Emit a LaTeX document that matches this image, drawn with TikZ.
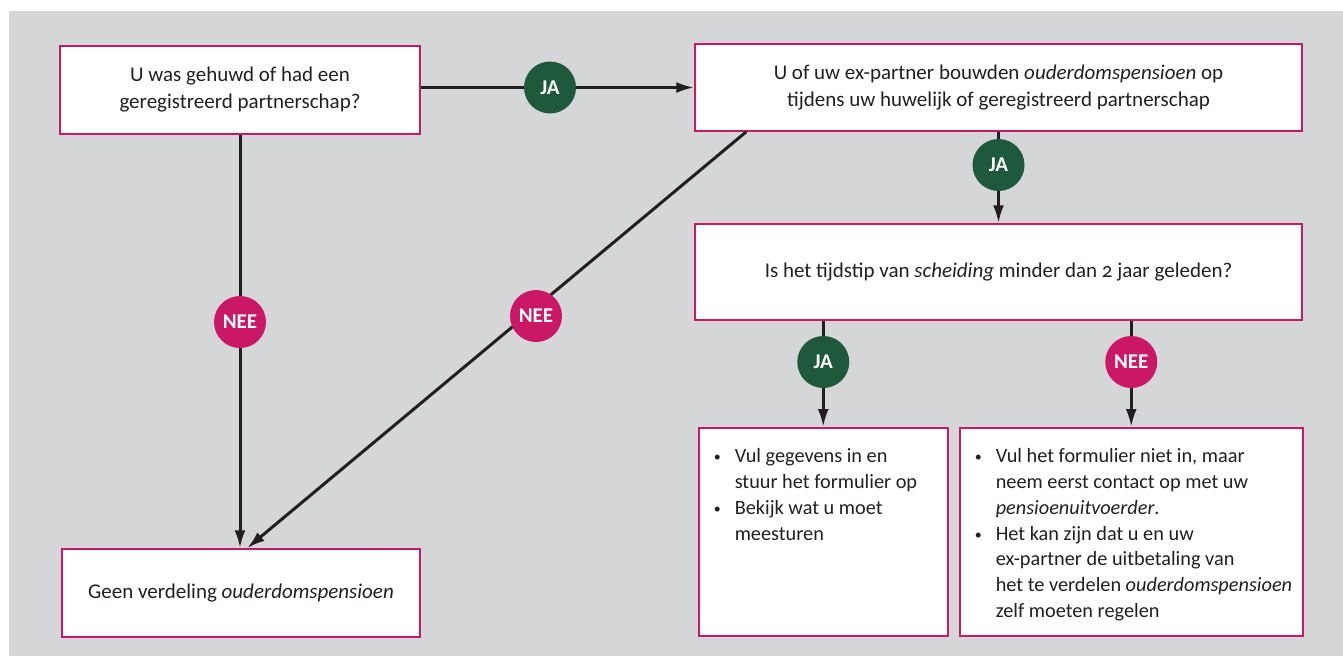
\documentclass[tikz,border=0pt]{standalone}
\usepackage{fontspec}
\setmainfont{Carlito}[Numbers=OldStyle]
\usepackage{tikz}
\usetikzlibrary{arrows.meta}

\definecolor{achtergrond}{RGB}{213,214,216}
\definecolor{roze}{RGB}{202,24,103}
\definecolor{donkergroen}{RGB}{29,89,58}
\definecolor{lijn}{RGB}{35,31,32}

\newcommand{\lijstpunt}{\spaceskip=0pt\xspaceskip=0pt\hyphenpenalty=10000
  \hspace*{15pt}\makebox[21pt][l]{\raisebox{1pt}{\fontsize{14}{14}\selectfont•}}}
\newcommand{\lijstvolg}{\hspace*{36pt}}

\begin{document}
\begin{tikzpicture}[x=1pt, y=-1pt,
  every node/.style = {font=\fontsize{21}{27}\selectfont, text=lijn},
  vak/.style = {rectangle, draw=roze, line width=1.5pt, fill=white,
    align=center, inner sep=0pt},
  lijstvak/.style = {rectangle, draw=roze, line width=1.5pt, fill=white,
    align=left, anchor=north west, inner sep=0pt, text height=35pt,
    text depth=173pt, font=\fontsize{20.3}{25.8}\selectfont},
  ja/.style = {circle, fill=donkergroen, minimum size=52pt, inner sep=0pt,
    text=white, font=\fontsize{21}{25}\selectfont\bfseries},
  nee/.style = {ja, fill=roze},
  pijl/.style = {draw=lijn, line width=3pt, -{Latex[length=18pt,width=11pt]}}]
  \useasboundingbox (0,0) rectangle (1343,656);
  \fill[achtergrond] (9,11) rectangle (1343,656);

  % vakken
  \node[vak, minimum width=360pt, minimum height=88pt] (gehuwd) at (240,90)
    {U was gehuwd of had een\\ geregistreerd partnerschap?};
  \node[vak, minimum width=607pt, minimum height=87pt] (opbouw) at (998.5,87.5)
    {U of uw ex-partner bouwden \textit{ouderdomspensioen} op\\
     tijdens uw huwelijk of geregistreerd partnerschap};
  \node[vak, minimum width=607pt, minimum height=96pt] (scheiding) at (998.5,272)
    {Is het tijdstip van \textit{scheiding} minder dan 2 jaar geleden?};
  \node[vak, minimum width=358pt, minimum height=88pt] (geen) at (241,593)
    {Geen verdeling \textit{ouderdomspensioen}};
  \node[lijstvak, text width=249pt] (invullen) at (698,427)
    {\lijstpunt Vul gegevens in en\\
     \lijstvolg stuur het formulier op\\
     \lijstpunt Bekijk wat u moet\\
     \lijstvolg meesturen};
  \node[lijstvak, text width=343pt] (contact) at (959,427)
    {\lijstpunt Vul het formulier niet in, maar\\
     \lijstvolg neem eerst contact op met uw\\
     \lijstvolg \textit{pensioenuitvoerder}.\\
     \lijstpunt Het kan zijn dat u en uw\\
     \lijstvolg ex-partner de uitbetaling van\\
     \lijstvolg het te verdelen \textit{ouderdomspensioen}\\
     \lijstvolg zelf moeten regelen};

  % pijlen
  \draw[pijl] (opbouw.west -| gehuwd.east) -- (opbouw.west);
  \draw[pijl] (gehuwd.south) -- (geen.north -| gehuwd.south);
  \draw[pijl] ([xshift=52pt]opbouw.south west) -- ([xshift=6pt]geen.north);
  \draw[pijl] (opbouw.south) -- (scheiding.north);
  \draw[pijl] (scheiding.south -| invullen.north) -- (invullen.north);
  \draw[pijl] (scheiding.south -| contact.north) -- (contact.north);

  % ja / nee
  \node[ja] (ja1) at (550,87.5) {JA};
  \node[nee] (nee1) at (240,322) {NEE};
  \node[nee] (nee2) at (536,316) {NEE};
  \node[ja] (ja2) at (opbouw.south |- 0,165) {JA};
  \node[ja] (ja3) at (invullen.north |- 0,362) {JA};
  \node[nee] (nee3) at (contact.north |- 0,362) {NEE};
\end{tikzpicture}
\end{document}
